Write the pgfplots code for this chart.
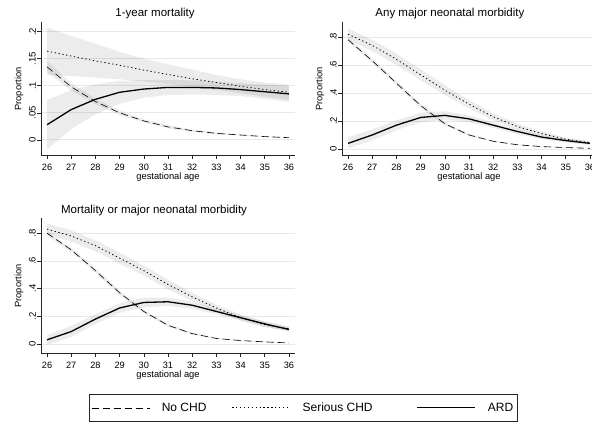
\documentclass[border=0pt]{standalone}
\usepackage{pgfplots}
\pgfplotsset{compat=1.18}
\usepackage{fontspec}
\setmainfont{Liberation Sans}

\pgfplotsset{
  every axis title/.style={anchor=center, font=\fontsize{11.5}{13}\selectfont},
  stata/.style={
    scale only axis, width=254pt, height=133pt, anchor=south west,
    axis lines=left, axis line style={-, black!85, line width=0.6pt},
    xmin=25.75, xmax=36.25, xtick={26,27,28,29,30,31,32,33,34,35,36},
    xticklabels={26,27,28,29,30,31,32,33,34,35,36},
    tick align=outside, major tick length=4pt, tick style={black!85, line width=0.6pt},
    ymajorgrids, major grid style={black!9, line width=0.8pt},
    /pgf/number format/assume math mode=true,
    x tick label style={font=\fontsize{9.2}{11}\selectfont, inner sep=1pt},
    xticklabel shift=3.5pt,
    y tick label style={font=\fontsize{9.5}{11}\selectfont, rotate=90, anchor=south, inner sep=1pt},
    yticklabel shift=0pt,
    xlabel={gestational age},
    xlabel style={font=\fontsize{9.3}{11}\selectfont, anchor=center, at={(0.5,-0.165)}},
    ylabel={Proportion},
    ylabel style={font=\fontsize{9.3}{11}\selectfont, anchor=center, at={(-0.087,0.496)}},
    clip=false,
  },
  band/.style={fill=black, fill opacity=0.075, draw=none, forget plot},
  nochd/.style={black, line width=0.6pt, dash pattern=on 7pt off 4pt},
  serious/.style={black, line width=0.8pt, dash pattern=on 1.3pt off 2.6pt},
  ard/.style={black, line width=1.3pt},
}

\begin{document}
\begin{tikzpicture}[x=1pt,y=1pt]

% ---------- Panel 1 ----------
\begin{axis}[stata, at={(41pt,270pt)},
  ymin=-0.028, ymax=0.218,
  ytick={0,0.05,0.1,0.15,0.2}, yticklabels={0,.05,.1,.15,.2},
  title={1-year mortality}, title style={at={(0.449,1.064)}}]
\addplot[band] coordinates {(26,0.208)(27,0.192)(28,0.178)(29,0.163)(30,0.150)(31,0.140)(32,0.130)(33,0.120)(34,0.112)(35,0.106)(36,0.102)
 (36,0.074)(35,0.080)(34,0.086)(33,0.092)(32,0.097)(31,0.103)(30,0.108)(29,0.112)(28,0.115)(27,0.118)(26,0.120)};
\addplot[band] coordinates {(26,0.074)(27,0.092)(28,0.103)(29,0.109)(30,0.111)(31,0.111)(32,0.110)(33,0.108)(34,0.105)(35,0.102)(36,0.100)
 (36,0.070)(35,0.076)(34,0.081)(33,0.083)(32,0.084)(31,0.083)(30,0.078)(29,0.067)(28,0.047)(27,0.020)(26,-0.018)};
\addplot[band] coordinates {(26,0.146)(27,0.105)(28,0.076)(29,0.054)(30,0.038)(31,0.027)(32,0.019)(33,0.014)(34,0.010)(35,0.007)(36,0.005)
 (36,0.003)(35,0.005)(34,0.008)(33,0.010)(32,0.015)(31,0.021)(30,0.032)(29,0.046)(28,0.066)(27,0.091)(26,0.125)};
\addplot[nochd] coordinates {(26,0.135)(27,0.098)(28,0.071)(29,0.050)(30,0.035)(31,0.024)(32,0.017)(33,0.012)(34,0.009)(35,0.006)(36,0.004)};
\addplot[serious] coordinates {(26,0.164)(27,0.155)(28,0.146)(29,0.138)(30,0.129)(31,0.121)(32,0.113)(33,0.106)(34,0.099)(35,0.093)(36,0.088)};
\addplot[ard] coordinates {(26,0.028)(27,0.056)(28,0.075)(29,0.088)(30,0.094)(31,0.097)(32,0.097)(33,0.096)(34,0.093)(35,0.089)(36,0.085)};
\end{axis}

% ---------- Panel 2 ----------
\begin{axis}[stata, at={(342pt,270pt)},
  ymin=-0.043, ymax=0.907,
  ytick={0,0.2,0.4,0.6,0.8}, yticklabels={0,.2,.4,.6,.8},
  title={Any major neonatal morbidity}, title style={at={(0.425,1.064)}}]
\addplot[band] coordinates {(26,0.86)(27,0.78)(28,0.68)(29,0.57)(30,0.455)(31,0.35)(32,0.255)(33,0.18)(34,0.125)(35,0.082)(36,0.055)
 (36,0.035)(35,0.058)(34,0.095)(33,0.14)(32,0.205)(31,0.29)(30,0.385)(29,0.49)(28,0.60)(27,0.70)(26,0.78)};
\addplot[band] coordinates {(26,0.085)(27,0.14)(28,0.205)(29,0.26)(30,0.27)(31,0.24)(32,0.19)(33,0.143)(34,0.10)(35,0.073)(36,0.052)
 (36,0.028)(35,0.047)(34,0.07)(33,0.107)(32,0.15)(31,0.19)(30,0.21)(29,0.19)(28,0.135)(27,0.06)(26,0.005)};
\addplot[band] coordinates {(26,0.795)(27,0.645)(28,0.485)(29,0.325)(30,0.192)(31,0.108)(32,0.06)(33,0.034)(34,0.02)(35,0.012)(36,0.007)
 (36,0.003)(35,0.008)(34,0.014)(33,0.026)(32,0.05)(31,0.092)(30,0.168)(29,0.295)(28,0.455)(27,0.615)(26,0.765)};
\addplot[nochd] coordinates {(26,0.78)(27,0.63)(28,0.47)(29,0.31)(30,0.18)(31,0.10)(32,0.055)(33,0.03)(34,0.017)(35,0.01)(36,0.005)};
\addplot[serious] coordinates {(26,0.82)(27,0.74)(28,0.64)(29,0.53)(30,0.42)(31,0.32)(32,0.23)(33,0.16)(34,0.11)(35,0.07)(36,0.045)};
\addplot[ard] coordinates {(26,0.04)(27,0.10)(28,0.17)(29,0.225)(30,0.24)(31,0.215)(32,0.17)(33,0.125)(34,0.085)(35,0.06)(36,0.04)};
\end{axis}

% ---------- Panel 3 ----------
\begin{axis}[stata, at={(41pt,72pt)}, height=135pt,
  ymin=-0.065, ymax=0.91,
  ytick={0,0.2,0.4,0.6,0.8}, yticklabels={0,.2,.4,.6,.8},
  title={Mortality or major neonatal morbidity}, title style={at={(0.445,1.059)}},
  legend style={at={(0.189,-0.304)}, anchor=north west, draw=black!85,
    font=\fontsize{12}{14}\selectfont, legend columns=3,
    inner xsep=2pt, inner ysep=6.5pt,
    /tikz/every odd column/.append style={column sep=10pt}},
  legend image code/.code={\draw[#1] (0pt,0pt) -- (58pt,0pt);},
  ]
\addplot[band] coordinates {(26,0.87)(27,0.82)(28,0.75)(29,0.66)(30,0.565)(31,0.465)(32,0.37)(33,0.285)(34,0.212)(35,0.16)(36,0.125)
 (36,0.095)(35,0.12)(34,0.168)(33,0.235)(32,0.31)(31,0.395)(30,0.495)(29,0.58)(28,0.67)(27,0.74)(26,0.79)};
\addplot[band] coordinates {(26,0.065)(27,0.13)(28,0.215)(29,0.295)(30,0.335)(31,0.335)(32,0.305)(33,0.255)(34,0.208)(35,0.163)(36,0.122)
 (36,0.088)(35,0.127)(34,0.172)(33,0.215)(32,0.255)(31,0.275)(30,0.265)(29,0.225)(28,0.145)(27,0.05)(26,-0.005)};
\addplot[band] coordinates {(26,0.815)(27,0.695)(28,0.545)(29,0.385)(30,0.248)(31,0.145)(32,0.082)(33,0.045)(34,0.029)(35,0.018)(36,0.01)
 (36,0.006)(35,0.012)(34,0.021)(33,0.035)(32,0.068)(31,0.125)(30,0.222)(29,0.355)(28,0.515)(27,0.665)(26,0.785)};
\addplot[nochd] coordinates {(26,0.80)(27,0.68)(28,0.53)(29,0.37)(30,0.235)(31,0.135)(32,0.075)(33,0.04)(34,0.025)(35,0.015)(36,0.008)};
\addlegendentry{\makebox[68pt][l]{No CHD}}
\addplot[serious] coordinates {(26,0.83)(27,0.78)(28,0.71)(29,0.62)(30,0.53)(31,0.43)(32,0.34)(33,0.26)(34,0.19)(35,0.14)(36,0.11)};
\addlegendentry{\makebox[112pt][l]{Serious CHD}}
\addplot[ard] coordinates {(26,0.03)(27,0.09)(28,0.18)(29,0.26)(30,0.30)(31,0.305)(32,0.28)(33,0.235)(34,0.19)(35,0.145)(36,0.105)};
\addlegendentry{ARD}
\end{axis}

\pgfresetboundingbox
\path[use as bounding box] (0pt,0pt) rectangle (592pt,425pt);
\end{tikzpicture}
\end{document}
